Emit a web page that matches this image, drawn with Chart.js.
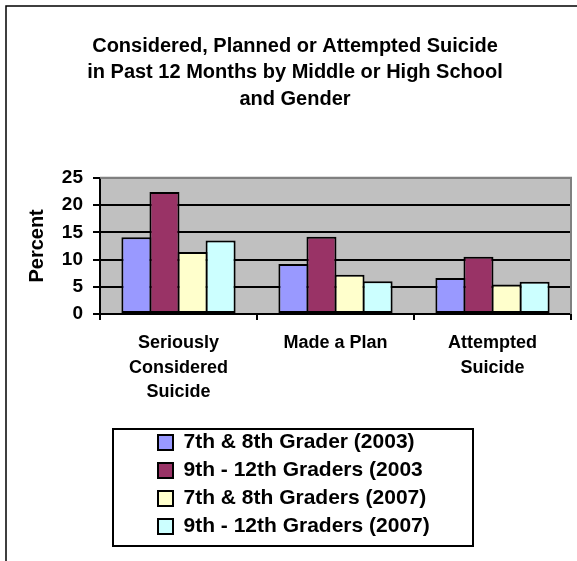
<!DOCTYPE html>
<html>
<head>
<meta charset="utf-8">
<script src="https://cdn.jsdelivr.net/npm/chart.js@4/dist/chart.umd.min.js"></script>
<style>
  body { margin: 0; background: #fff; }
  #wrap { width: 577px; height: 561px; }
</style>
</head>
<body>
<div id="wrap"><canvas id="chart" width="577" height="561"></canvas></div>
<script>
const titleLines = ['Considered, Planned or Attempted Suicide', 'in Past 12 Months by Middle or High School', 'and Gender'];
const categories = [['Seriously', 'Considered', 'Suicide'], 'Made a Plan', ['Attempted', 'Suicide']];
const seriesNames = ['7th & 8th Grader (2003)', '9th - 12th Graders (2003', '7th & 8th Graders (2007)', '9th - 12th Graders (2007)'];
const grade78_2003 = [14.1, 9.2, 6.6];
const grade912_2003 = [22.4, 14.2, 10.5];
const grade78_2007 = [11.4, 7.2, 5.4];
const grade912_2007 = [13.5, 6.0, 5.9];
const yTicks = [0, 5, 10, 15, 20, 25];

const colors = ['#9999FF', '#993366', '#FFFFCC', '#CCFFFF'];
const FONT = '"Liberation Sans", Arial, sans-serif';

function font(size) {
  return { family: FONT, size: size, weight: 'bold' };
}

// background, plot fill, frame and legend box
const decor = {
  id: 'decor',
  beforeDraw(chart) {
    const { ctx, chartArea: a } = chart;
    ctx.save();
    ctx.fillStyle = '#fff';
    ctx.fillRect(0, 0, chart.width, chart.height);
    ctx.fillStyle = '#C0C0C0';
    ctx.fillRect(a.left, a.top, a.right - a.left, a.bottom - a.top);
    ctx.restore();
  },
  afterLayout(chart) {
    // legend box sits centred on the whole chart, not on the plot
    const lg = chart.legend;
    const w = lg.width;
    lg.left = 151;
    lg.right = lg.left + w;
  },
  beforeDatasetsDraw(chart) {
    const { ctx, chartArea: a } = chart;
    ctx.save();
    ctx.strokeStyle = '#808080';
    ctx.lineWidth = 2;
    ctx.beginPath();
    ctx.moveTo(a.left, a.top);
    ctx.lineTo(a.right, a.top);
    ctx.lineTo(a.right, a.bottom);
    ctx.stroke();
    ctx.restore();
  },
  afterDraw(chart) {
    const { ctx } = chart;
    const lg = chart.legend;
    ctx.save();
    ctx.strokeStyle = '#000';
    ctx.lineWidth = 2;
    const x0 = lg.left + 7 - 45;
    ctx.strokeRect(x0, lg.top + 4, 360, lg.bottom - lg.top - 5);
    ctx.lineWidth = 1.5;
    ctx.strokeRect(6, 6, 800, 800);
    ctx.restore();
  }
};

const seriesData = [grade78_2003, grade912_2003, grade78_2007, grade912_2007];

new Chart(document.getElementById('chart'), {
  type: 'bar',
  data: {
    labels: categories,
    datasets: seriesNames.map((name, i) => ({
      label: name,
      data: seriesData[i],
      backgroundColor: colors[i],
      borderColor: '#000',
      borderWidth: 2,
      borderSkipped: false,
      categoryPercentage: 0.715,
      barPercentage: 1.07
    }))
  },
  options: {
    responsive: false,
    animation: false,
    layout: { padding: { left: 19, right: 6, top: 0, bottom: 14 } },
    scales: {
      x: {
        grid: { drawOnChartArea: false, color: '#000', lineWidth: 2, tickLength: 6 },
        border: { color: '#000', width: 2 },
        ticks: { color: '#000', font: { ...font(18), lineHeight: 1.36 }, padding: 11, maxRotation: 0, autoSkip: false },
        afterFit(scale) { scale.height = 111; }
      },
      y: {
        min: 0,
        max: 25,
        afterBuildTicks(scale) { scale.ticks = yTicks.map(v => ({ value: v })); },
        grid: {
          color: c => (c.tick && c.tick.value === 25 ? '#808080' : '#000'),
          tickColor: '#000',
          lineWidth: 2,
          tickLength: 7
        },
        border: { color: '#000', width: 2 },
        ticks: { color: '#000', font: font(19), padding: 10 },
        title: { display: true, text: 'Percent', color: '#000', font: font(20), padding: { top: 6, bottom: 0 } },
        afterFit(scale) { scale.width = 81; }
      }
    },
    plugins: {
      title: {
        display: true,
        text: titleLines,
        color: '#000',
        font: { ...font(20), lineHeight: 1.33 },
        padding: { top: 33, bottom: 65 }
      },
      legend: {
        position: 'bottom',
        align: 'start',
        fullSize: false,
        labels: {
          color: '#000',
          font: font(21),
          boxWidth: 15,
          boxHeight: 15,
          padding: 7
        }
      },
      tooltip: { enabled: false }
    }
  },
  plugins: [decor]
});
</script>
</body>
</html>
